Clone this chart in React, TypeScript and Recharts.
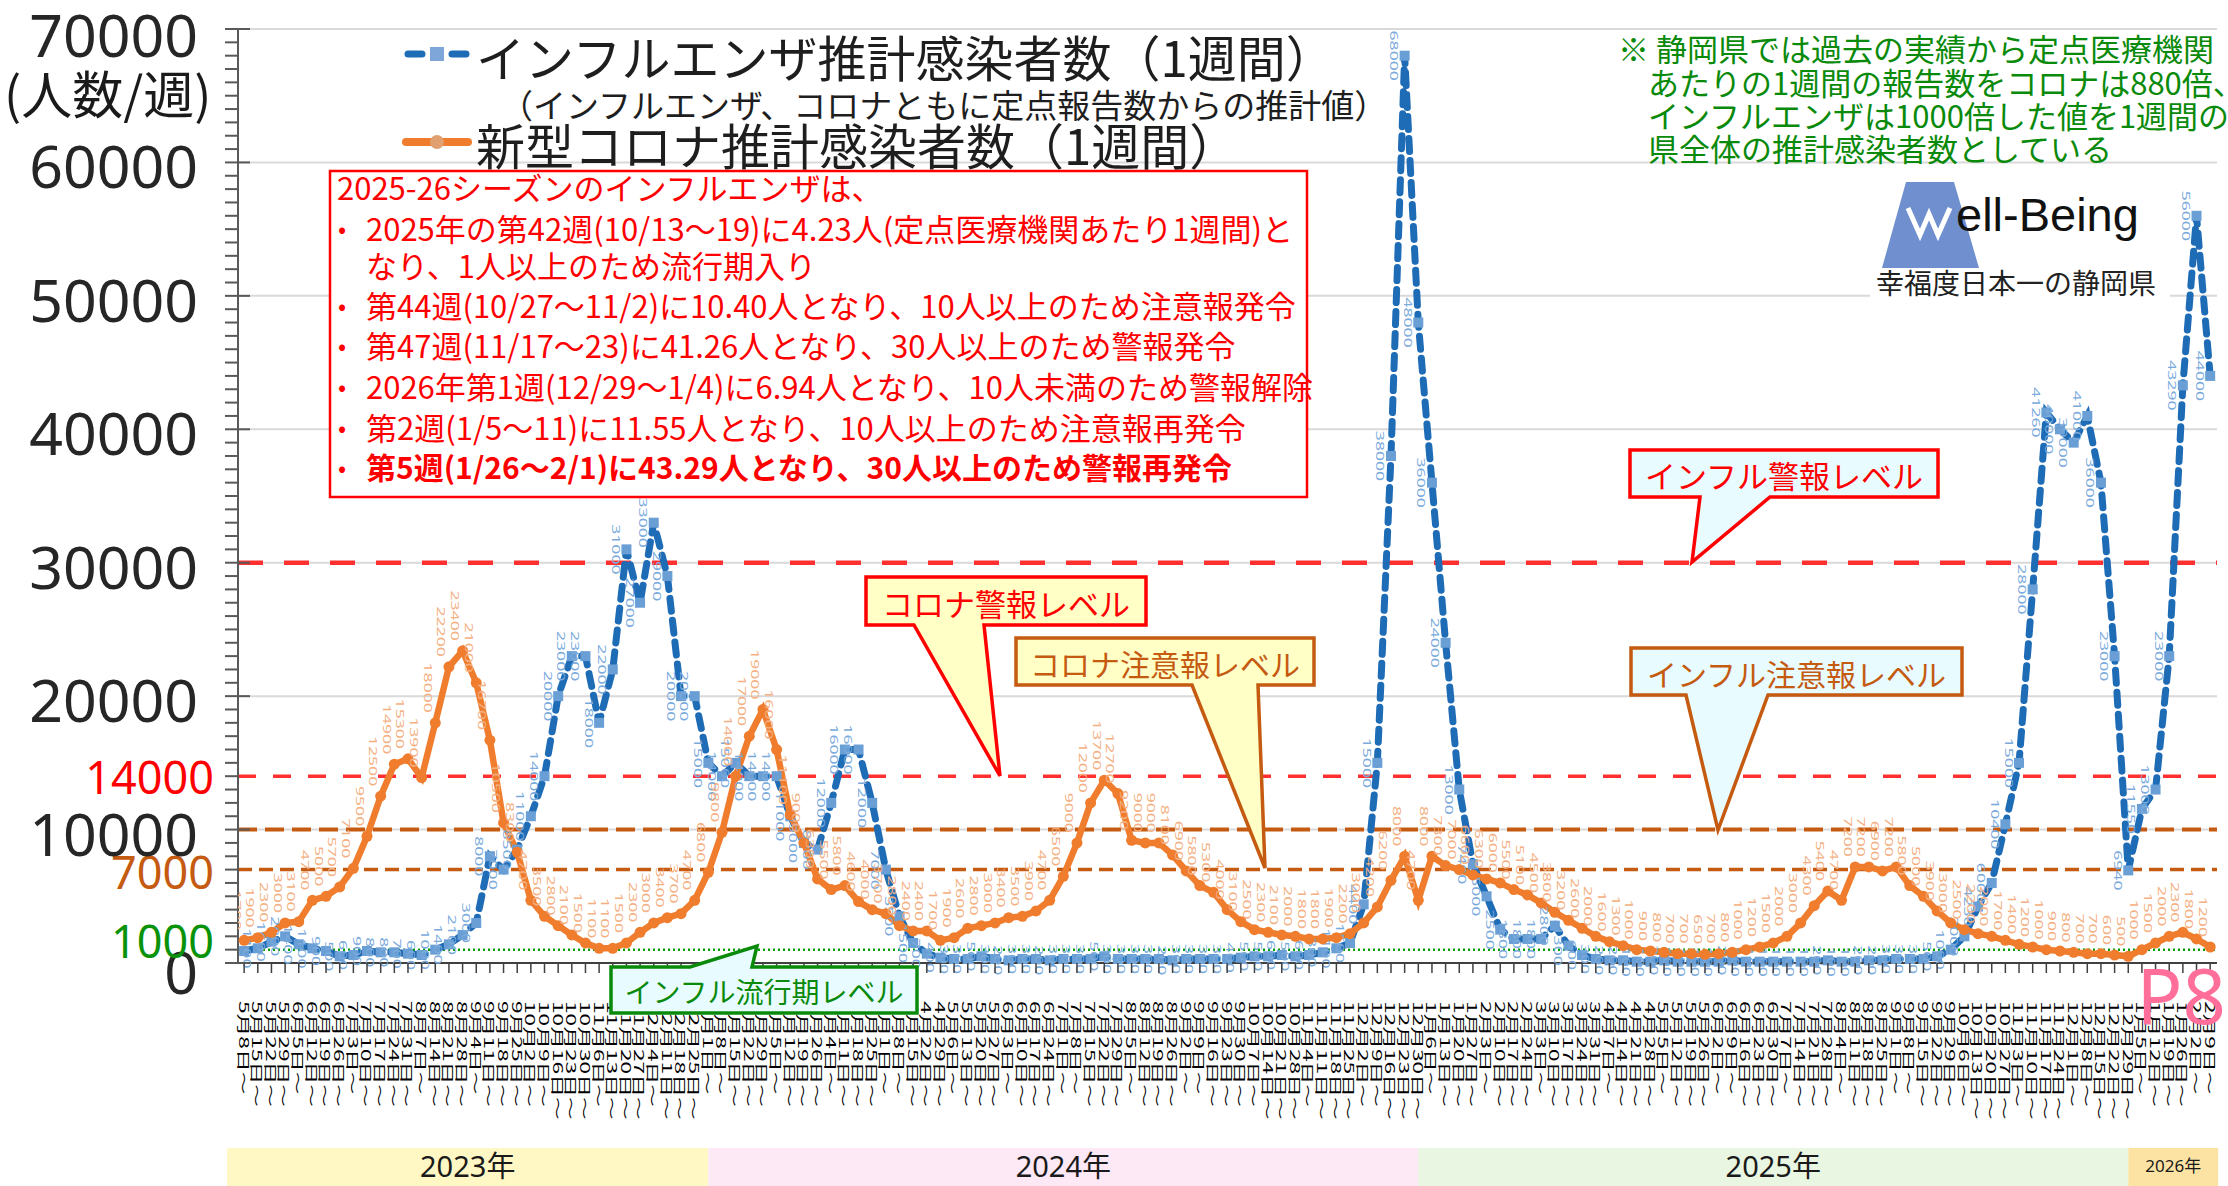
import React from 'react';
import { LineChart, Line, XAxis, YAxis, ReferenceLine } from 'recharts';

const FONT = "'Noto Sans CJK JP', 'Noto Sans', sans-serif";
const LATIN = "'Noto Sans', 'Noto Sans CJK JP', sans-serif";

// week start (Monday) of each surveillance week
const weeks2023 = ['5/8', '5/15', '5/22', '5/29', '6/5', '6/12', '6/19', '6/26', '7/3', '7/10', '7/17', '7/24', '7/31', '8/7', '8/14', '8/21', '8/28', '9/4', '9/11', '9/18', '9/25', '10/2', '10/9', '10/16', '10/23', '10/30', '11/6', '11/13', '11/20', '11/27', '12/4', '12/11', '12/18', '12/25'];
const weeks2024 = ['1/1', '1/8', '1/15', '1/22', '1/29', '2/5', '2/12', '2/19', '2/26', '3/4', '3/11', '3/18', '3/25', '4/1', '4/8', '4/15', '4/22', '4/29', '5/6', '5/13', '5/20', '5/27', '6/3', '6/10', '6/17', '6/24', '7/1', '7/8', '7/15', '7/22', '7/29', '8/5', '8/12', '8/19', '8/26', '9/2', '9/9', '9/16', '9/23', '9/30', '10/7', '10/14', '10/21', '10/28', '11/4', '11/11', '11/18', '11/25', '12/2', '12/9', '12/16', '12/23'];
const weeks2025 = ['12/30', '1/6', '1/13', '1/20', '1/27', '2/3', '2/10', '2/17', '2/24', '3/3', '3/10', '3/17', '3/24', '3/31', '4/7', '4/14', '4/21', '4/28', '5/5', '5/12', '5/19', '5/26', '6/2', '6/9', '6/16', '6/23', '6/30', '7/7', '7/14', '7/21', '7/28', '8/4', '8/11', '8/18', '8/25', '9/1', '9/8', '9/15', '9/22', '9/29', '10/6', '10/13', '10/20', '10/27', '11/3', '11/10', '11/17', '11/24', '12/1', '12/8', '12/15', '12/22'];
const weeks2026 = ['12/29', '1/5', '1/12', '1/19', '1/26', '2/2', '2/9'];

// influenza: per-sentinel x 1000
const flu2023 = [900, 1100, 1600, 2000, 1400, 1100, 900, 500, 600, 900, 800, 800, 700, 600, 1000, 1400, 2100, 3000, 8000, 7000, 8500, 11000, 14000, 20000, 23000, 23000, 18000, 22000, 31000, 27000, 33000, 29000, 20000, 20000];
const flu2024 = [15000, 14000, 15000, 14000, 14000, 14000, 11000, 9000, 8500, 12000, 16000, 16000, 12000, 7000, 3500, 1500, 700, 400, 300, 300, 500, 300, 200, 300, 300, 200, 300, 300, 300, 500, 300, 300, 300, 300, 200, 300, 300, 300, 300, 400, 500, 500, 600, 500, 600, 800, 1100, 1500, 4400, 15000, 38000, 68000];
const flu2025 = [48000, 36000, 24000, 13000, 7400, 5000, 2500, 1800, 1800, 1800, 2800, 1300, 600, 300, 200, 200, 100, 100, 200, 100, 100, 100, 100, 200, 100, 100, 100, 100, 100, 100, 200, 100, 100, 200, 200, 300, 300, 300, 500, 1000, 2000, 4230, 6000, 10400, 15000, 28000, 41260, 40000, 39000, 41000, 36000, 23000];
const flu2026 = [6940, 11550, 13000, 23000, 43290, 56000, 44000];

// COVID-19: per-sentinel x 880
const covid2023 = [1700, 1900, 2300, 3000, 3100, 4700, 5000, 5700, 7100, 9500, 12500, 14900, 15300, 13900, 18000, 22200, 23400, 21000, 16700, 10500, 8300, 4700, 3500, 2800, 2100, 1500, 1100, 1100, 1500, 2300, 3000, 3400, 3700, 4700];
const covid2024 = [6800, 9800, 14000, 17000, 19000, 16000, 11100, 9000, 6300, 5500, 5800, 4600, 4000, 3700, 2800, 2400, 2400, 1700, 1900, 2600, 2800, 3000, 3400, 3500, 3900, 4700, 6500, 9000, 12000, 13700, 12700, 9200, 9000, 9000, 8100, 6900, 5800, 5300, 4000, 3100, 2500, 2300, 2100, 2000, 1800, 1800, 1900, 2200, 3000, 4200, 6200, 8000];
const covid2025 = [4700, 8000, 7300, 7000, 6600, 6300, 6000, 5500, 5100, 4500, 3800, 3200, 2600, 2000, 1600, 1300, 1000, 900, 800, 700, 700, 650, 700, 800, 1000, 1200, 1500, 2000, 3000, 4300, 5400, 4700, 7200, 7200, 6900, 7200, 5800, 5000, 3900, 3000, 2500, 2200, 2000, 1700, 1400, 1200, 1000, 900, 800, 700, 700, 600];
const covid2026 = [500, 1000, 1500, 2000, 2300, 1800, 1200];

const allWeeks = [...weeks2023, ...weeks2024, ...weeks2025, ...weeks2026];
const fluValues = [...flu2023, ...flu2024, ...flu2025, ...flu2026];
const covidValues = [...covid2023, ...covid2024, ...covid2025, ...covid2026];

const weekLabels = allWeeks.map((s) => {
  const [m, d] = s.split('/');
  return `${m}月${d}日～`;
});

const data = allWeeks.map((w, i) => ({ idx: i, week: w, flu: fluValues[i], covid: covidValues[i] }));

const yearBands = [
  { label: '2023年', weeks: weeks2023.length, fill: '#fff7c4', size: 29 },
  { label: '2024年', weeks: weeks2024.length, fill: '#fde8f6', size: 29 },
  { label: '2025年', weeks: weeks2025.length, fill: '#e8f6e2', size: 29 },
  { label: '2026年', weeks: weeks2026.length, fill: '#fce3a4', size: 17 },
];

const levelLines = [
  { y: 30000, color: '#ff3030', width: 4.5, dash: '25 21' },
  { y: 14000, color: '#ff3030', width: 3.5, dash: '18 17' },
  { y: 10000, color: '#c55a11', width: 4, dash: '19 8' },
  { y: 7000, color: '#c55a11', width: 3.5, dash: '14 7' },
  { y: 1000, color: '#00a000', width: 2.5, dash: '2 3' },
];
const levelLabels = [
  { value: 14000, color: '#ff0000', dy: 0 },
  { value: 7000, color: '#c55a11', dy: 2 },
  { value: 1000, color: '#0a930a', dy: -9 },
];
const gridValues = [10000, 20000, 30000, 40000, 50000, 60000, 70000];
const yTicks = Array.from({ length: 71 }, (_, k) => k * 1000);

// geometry
const W = 2228;
const H = 1186;
const PLOT_LEFT = 238;
const PLOT_RIGHT = 2217;
const PLOT_TOP = 29;
const PLOT_BOTTOM = 963;
const X_DOMAIN: [number, number] = [-0.45, 144.5];
const xPos = (i: number) =>
  PLOT_LEFT + ((i - X_DOMAIN[0]) / (X_DOMAIN[1] - X_DOMAIN[0])) * (PLOT_RIGHT - PLOT_LEFT);

const FLU_LINE = '#1f6cb6';
const FLU_MARK = '#6a9fd6';
const COVID = '#ef7d2d';

const YTick = (props: any) => {
  const { x, y, payload } = props;
  const v = payload.value as number;
  const major = v % 10000 === 0;
  const special = levelLabels.find((s) => s.value === v);
  return (
    <g>
      <line x1={x - 13} x2={major ? x + 12 : x} y1={y} y2={y} stroke="#595959" strokeWidth={2} />
      {major && (
        <text x={x - 40} y={y + (v === 0 ? 8 : v === 70000 ? 5 : 3)} textAnchor="end" dominantBaseline="central" fontSize={59} fill="#262626" fontFamily={LATIN}>
          {v}
        </text>
      )}
      {special && (
        <text x={x - 24} y={y + special.dy} textAnchor="end" dominantBaseline="central" fontSize={45} fill={special.color} fontFamily={LATIN}>
          {v}
        </text>
      )}
    </g>
  );
};

const XTick = (props: any) => {
  const { x, y, payload } = props;
  const label = weekLabels[payload.value];
  return (
    <g>
      <line x1={x} x2={x} y1={y} y2={y + 10} stroke="#404040" strokeWidth={1.5} />
      <text
        transform={`translate(${x},${y + 38}) scale(1,1.75) rotate(90)`}
        dominantBaseline="central"
        fontSize={13}
        fill="#000000"
        fontFamily={FONT}
      >
        {label}
      </text>
    </g>
  );
};

const fluDot = (props: any) => {
  const { cx, cy, index, payload } = props;
  return (
    <g key={`fd${index}`}>
      <rect x={cx - 5} y={cy - 5} width={10} height={10} fill={FLU_MARK} />
      <text
        transform={`translate(${cx - 10},${cy}) scale(1,1.6) rotate(90)`}
        textAnchor="middle"
        dominantBaseline="central"
        fontSize={11}
        fill="#7aaadc"
        fontFamily={LATIN}
      >
        {payload.flu}
      </text>
    </g>
  );
};

const covidDot = (props: any) => {
  const { cx, cy, index, payload } = props;
  return (
    <g key={`cd${index}`}>
      <circle cx={cx} cy={cy} r={5.5} fill={COVID} />
      <text
        transform={`translate(${cx - 7},${cy - 10}) scale(1,1.6) rotate(90)`}
        textAnchor="end"
        dominantBaseline="central"
        fontSize={11}
        fill="#f4b083"
        fontFamily={LATIN}
      >
        {payload.covid}
      </text>
    </g>
  );
};

type Callout = {
  text: string;
  x: number;
  y: number;
  w: number;
  h: number;
  base: [number, number];
  tip: [number, number];
  up?: boolean;
  stroke: string;
  fill: string;
  size: number;
};

const callouts: Callout[] = [
  { text: 'インフル警報レベル', x: 1630, y: 450, w: 308, h: 47, base: [1700, 1770], tip: [1692, 562], stroke: '#ff0000', fill: '#e8fcff', size: 31 },
  { text: 'コロナ警報レベル', x: 866, y: 577, w: 280, h: 48, base: [914, 984], tip: [1000, 776], stroke: '#ff0000', fill: '#ffffc6', size: 31 },
  { text: 'コロナ注意報レベル', x: 1016, y: 638, w: 298, h: 47, base: [1192, 1258], tip: [1265, 868], stroke: '#c55a11', fill: '#ffffc6', size: 30 },
  { text: 'インフル注意報レベル', x: 1631, y: 648, w: 331, h: 47, base: [1686, 1768], tip: [1718, 830], stroke: '#c55a11', fill: '#e8fcff', size: 30 },
  { text: 'インフル流行期レベル', x: 611, y: 967, w: 306, h: 46, base: [690, 752], tip: [757, 946], up: true, stroke: '#0a8a0a', fill: '#e8fcff', size: 28 },
];

const calloutPath = (c: Callout) => {
  const r = c.x + c.w;
  const b = c.y + c.h;
  if (c.up) {
    return `M${c.x},${c.y} H${c.base[0]} L${c.tip[0]},${c.tip[1]} L${c.base[1]},${c.y} H${r} V${b} H${c.x} Z`;
  }
  return `M${c.x},${c.y} H${r} V${b} H${c.base[1]} L${c.tip[0]},${c.tip[1]} L${c.base[0]},${b} H${c.x} Z`;
};

const noteLines = [
  { text: '※  静岡県では過去の実績から定点医療機関', x: 1618, y: 47 },
  { text: 'あたりの1週間の報告数をコロナは880倍、', x: 1648, y: 81 },
  { text: 'インフルエンザは1000倍した値を1週間の', x: 1648, y: 114 },
  { text: '県全体の推計感染者数としている', x: 1648, y: 147 },
];

const boxLines = [
  { text: '2025-26シーズンのインフルエンザは、', bullet: false, indent: false, y: 186, bold: false },
  { text: '2025年の第42週(10/13～19)に4.23人(定点医療機関あたり1週間)と', bullet: true, indent: true, y: 227, bold: false },
  { text: 'なり、1人以上のため流行期入り', bullet: false, indent: true, y: 264, bold: false },
  { text: '第44週(10/27～11/2)に10.40人となり、10人以上のため注意報発令', bullet: true, indent: true, y: 304, bold: false },
  { text: '第47週(11/17～23)に41.26人となり、30人以上のため警報発令', bullet: true, indent: true, y: 344, bold: false },
  { text: '2026年第1週(12/29～1/4)に6.94人となり、10人未満のため警報解除', bullet: true, indent: true, y: 385, bold: false },
  { text: '第2週(1/5～11)に11.55人となり、10人以上のため注意報再発令', bullet: true, indent: true, y: 426, bold: false },
  { text: '第5週(1/26～2/1)に43.29人となり、30人以上のため警報再発令', bullet: true, indent: true, y: 466, bold: true },
];

const Overlay = () => {
  const starts: number[] = [];
  let acc = 0;
  yearBands.forEach((b) => {
    starts.push(acc);
    acc += b.weeks;
  });
  return (
    <svg width={W} height={H} style={{ position: 'absolute', left: 0, top: 0, pointerEvents: 'none' }}>
      {/* unit */}
      <text x={4} y={92} dominantBaseline="central" fontSize={51} fill="#1a1a1a" fontFamily={FONT}>(人数/週)</text>

      {/* legend */}
      <line x1={408} x2={422} y1={54} y2={54} stroke={FLU_LINE} strokeWidth={7} strokeLinecap="round" />
      <rect x={430} y={47} width={14} height={14} fill="#7ea6d8" />
      <line x1={452} x2={466} y1={54} y2={54} stroke={FLU_LINE} strokeWidth={7} strokeLinecap="round" />
      <text x={476} y={55} dominantBaseline="central" fontSize={49} fill="#1e1e1e" fontFamily={FONT}>インフルエンザ推計感染者数（1週間）</text>
      <text x={500} y={104} dominantBaseline="central" fontSize={33} fill="#1e1e1e" fontFamily={FONT}>（インフルエンザ、コロナともに定点報告数からの推計値）</text>
      <line x1={406} x2={468} y1={142} y2={142} stroke={COVID} strokeWidth={8} strokeLinecap="round" />
      <circle cx={437} cy={142} r={7} fill="#e0a070" />
      <text x={476} y={143} dominantBaseline="central" fontSize={49} fill="#1e1e1e" fontFamily={FONT}>新型コロナ推計感染者数（1週間）</text>

      {/* season text box */}
      <rect x={330} y={171} width={977} height={326} fill="#ffffff" stroke="#ff0000" strokeWidth={2.5} />
      {boxLines.map((l, k) => (
        <g key={k}>
          {l.bullet && (
            <text x={338} y={l.y} dominantBaseline="central" fontSize={24} fill="#ff0000" fontFamily={FONT}>•</text>
          )}
          <text
            x={l.indent ? 366 : 337}
            y={l.y}
            dominantBaseline="central"
            fontSize={l.bold ? 30 : 31}
            fontWeight={l.bold ? 700 : 400}
            fill="#ff0000"
            fontFamily={FONT}
          >
            {l.text}
          </text>
        </g>
      ))}

      {/* note */}
      {noteLines.map((l, k) => (
        <text key={k} x={l.x} y={l.y} dominantBaseline="central" fontSize={31} fill="#0a8a0a" fontFamily={FONT}>{l.text}</text>
      ))}

      {/* logo */}
      <rect x={1870} y={172} width={300} height={126} fill="#ffffff" />
      <polygon points="1906,182 1954,182 1979,268 1882,268" fill="#6f8fce" />
      <polyline points="1908,208 1920,235 1929,214 1938,235 1950,208" fill="none" stroke="#ffffff" strokeWidth={5} strokeLinejoin="miter" />
      <text x={1956} y={214} dominantBaseline="central" fontSize={47} fill="#111" fontFamily="'Liberation Sans', Arial, sans-serif">ell-Being</text>
      <text x={1876} y={282} dominantBaseline="central" fontSize={28} fill="#222" fontFamily={FONT}>幸福度日本一の静岡県</text>

      {/* callouts */}
      {callouts.map((c, k) => (
        <g key={k}>
          <path d={calloutPath(c)} fill={c.fill} stroke={c.stroke} strokeWidth={3.5} strokeLinejoin="miter" />
          <text x={c.x + c.w / 2} y={c.y + c.h / 2 + 1} textAnchor="middle" dominantBaseline="central" fontSize={c.size} fill={c.stroke} fontFamily={FONT}>
            {c.text}
          </text>
        </g>
      ))}

      {/* year bands */}
      {yearBands.map((b, k) => {
        const x0 = k === 0 ? xPos(-1.25) : xPos(starts[k]);
        const x1 = k === yearBands.length - 1 ? xPos(acc - 1) + 8 : xPos(starts[k + 1]);
        return (
          <g key={b.label}>
            <rect x={x0} y={1148} width={x1 - x0} height={38} fill={b.fill} />
            <text x={(x0 + x1) / 2} y={1165} textAnchor="middle" dominantBaseline="central" fontSize={b.size} fill="#1a1a1a" fontFamily={LATIN}>
              {b.label}
            </text>
          </g>
        );
      })}

      <text x={2226} y={994} textAnchor="end" dominantBaseline="central" fontSize={76} fill="#ff6f9a" fontFamily={LATIN}>P8</text>
    </svg>
  );
};

export default function App() {
  return (
    <div style={{ position: 'absolute', left: 0, top: 0, width: W, height: H, background: '#ffffff', overflow: 'hidden', fontFamily: FONT }}>
      <LineChart
        width={W}
        height={H}
        data={data}
        margin={{ top: PLOT_TOP, right: W - PLOT_RIGHT, left: 0, bottom: 43 }}
      >
        <XAxis
          dataKey="idx"
          type="number"
          domain={X_DOMAIN}
          allowDataOverflow
          ticks={data.map((d) => d.idx)}
          interval={0}
          height={H - 43 - PLOT_BOTTOM}
          tickLine={false}
          tickSize={0}
          tickMargin={0}
          axisLine={{ stroke: '#404040', strokeWidth: 2 }}
          tick={XTick}
        />
        <YAxis
          type="number"
          domain={[0, 70000]}
          ticks={yTicks}
          interval={0}
          width={PLOT_LEFT}
          tickLine={false}
          tickSize={0}
          tickMargin={0}
          axisLine={{ stroke: '#595959', strokeWidth: 2 }}
          tick={YTick}
        />
        {gridValues.map((v) => (
          <ReferenceLine key={`g${v}`} y={v} stroke="#d9d9d9" strokeWidth={2} />
        ))}
        {levelLines.map((l) => (
          <ReferenceLine key={`l${l.y}`} y={l.y} stroke={l.color} strokeWidth={l.width} strokeDasharray={l.dash} />
        ))}
        <Line
          type="linear"
          dataKey="flu"
          stroke={FLU_LINE}
          strokeWidth={7}
          strokeDasharray="13 9"
          strokeLinecap="round"
          dot={fluDot}
          activeDot={false}
          isAnimationActive={false}
        />
        <Line
          type="linear"
          dataKey="covid"
          stroke={COVID}
          strokeWidth={6.5}
          dot={covidDot}
          activeDot={false}
          isAnimationActive={false}
        />
      </LineChart>
      <Overlay />
    </div>
  );
}
